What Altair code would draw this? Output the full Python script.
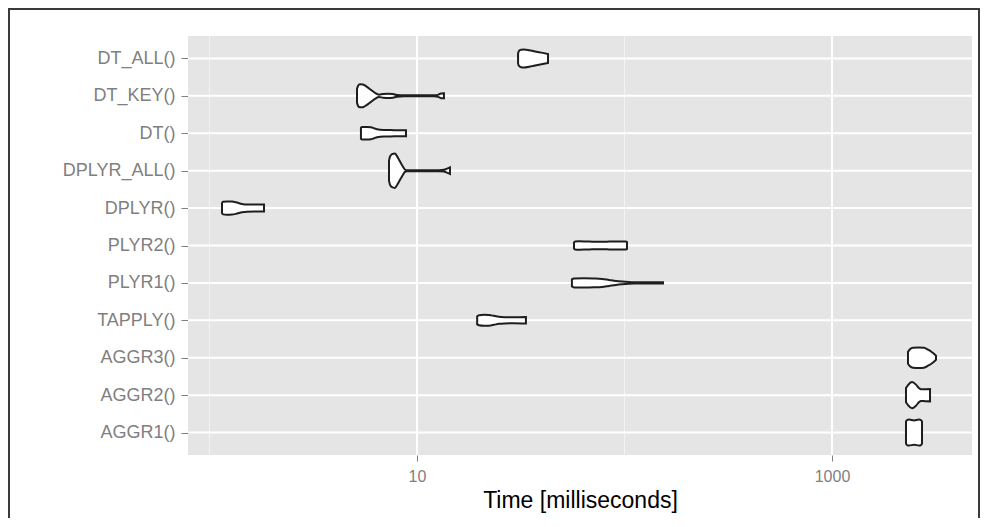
import altair as alt
import pandas as pd

# Categories, bottom to top (ggplot factor order)
labels = ["AGGR1()", "AGGR2()", "AGGR3()", "TAPPLY()", "PLYR1()", "PLYR2()",
          "DPLYR()", "DPLYR_ALL()", "DT()", "DT_KEY()", "DT_ALL()"]

# Violin profiles: time (ms) and half-width (in category units)
aggr1_ms = [2273, 2298, 2350, 2485, 2626, 2685, 2715]
aggr1_w = [0.294, 0.334, 0.348, 0.325, 0.348, 0.334, 0.294]

aggr2_ms = [2273, 2324, 2429, 2540, 2626, 2685, 2807, 2967]
aggr2_w = [0.187, 0.267, 0.348, 0.281, 0.187, 0.155, 0.160, 0.166]

aggr3_ms = [2324, 2376, 2457, 2626, 2776, 2902, 3033, 3136, 3171]
aggr3_w = [0.160, 0.227, 0.267, 0.275, 0.267, 0.214, 0.147, 0.080, 0.053]

tapply_ms = [19.5, 19.9, 21.0, 22.2, 23.5, 24.8, 26.3, 29.3, 33.5]
tapply_w = [0.107, 0.134, 0.147, 0.142, 0.120, 0.094, 0.083, 0.080, 0.086]

plyr1_ms = [55.8, 57.1, 63.8, 71.3, 77.9, 84.2, 91.0, 97.3, 111.1, 131.3, 153.3]
plyr1_w = [0.094, 0.120, 0.123, 0.118, 0.107, 0.080, 0.053, 0.037, 0.018, 0.016, 0.016]

plyr2_ms = [57.1, 57.7, 60.4, 67.4, 75.4, 84.2, 94.1, 101.7, 102.8]
plyr2_w = [0.080, 0.107, 0.112, 0.104, 0.102, 0.104, 0.107, 0.107, 0.094]

dplyr_ms = [1.149, 1.162, 1.214, 1.283, 1.357, 1.434, 1.516, 1.639, 1.733, 1.831]
dplyr_w = [0.134, 0.168, 0.179, 0.174, 0.147, 0.112, 0.096, 0.094, 0.094, 0.094]

dplyr_all_ms = [7.33, 7.41, 7.58, 7.83, 8.01, 8.19, 8.37, 8.56, 8.75, 8.95,
                10.22, 12.76, 13.49, 13.95, 14.42]
dplyr_all_w = [0.267, 0.374, 0.441, 0.460, 0.388, 0.294, 0.201, 0.107, 0.032, 0.013,
               0.013, 0.013, 0.024, 0.053, 0.088]

dt_ms = [5.37, 5.43, 5.74, 6.00, 6.21, 6.42, 6.93, 7.75, 8.37, 8.85]
dt_w = [0.147, 0.168, 0.168, 0.160, 0.134, 0.107, 0.088, 0.083, 0.080, 0.083]

dt_key_ms = [5.14, 5.20, 5.31, 5.49, 5.74, 6.00, 6.28, 6.56, 6.86, 7.25, 7.66, 8.01,
             8.66, 10.22, 12.08, 12.63, 13.05, 13.49]
dt_key_w = [0.187, 0.267, 0.307, 0.302, 0.241, 0.160, 0.080, 0.032, 0.048, 0.059, 0.048,
            0.021, 0.013, 0.013, 0.013, 0.027, 0.061, 0.067]

dt_all_ms = [30.7, 31.0, 31.7, 32.8, 34.7, 36.6, 38.7, 40.9, 42.8]
dt_all_w = [0.134, 0.201, 0.235, 0.241, 0.222, 0.195, 0.168, 0.142, 0.120]

profiles = [
    (aggr1_ms, aggr1_w), (aggr2_ms, aggr2_w), (aggr3_ms, aggr3_w),
    (tapply_ms, tapply_w), (plyr1_ms, plyr1_w), (plyr2_ms, plyr2_w),
    (dplyr_ms, dplyr_w), (dplyr_all_ms, dplyr_all_w), (dt_ms, dt_w),
    (dt_key_ms, dt_key_w), (dt_all_ms, dt_all_w),
]

x_major = [10, 1000]
x_minor = [1, 100]
positions = list(range(1, len(labels) + 1))

rows = []
for i, (lab, (ms, ws)) in enumerate(zip(labels, profiles)):
    for t, h in zip(ms, ws):
        rows.append({"func": lab, "pos": i + 1, "t": t, "w": h})
df = pd.DataFrame(rows)

W, H = 784, 419
xscale = alt.Scale(type="log", domain=[0.788, 4728], nice=False)
yscale = alt.Scale(domain=[0.4, 11.6], nice=False, zero=False)

label_expr = "[" + ",".join("'" + l + "'" for l in labels) + "][datum.value - 1]"

xaxis = alt.Axis(values=x_major, labelExpr="format(datum.value, 'd')",
                 title="Time [milliseconds]", grid=False, domain=False,
                 tickSize=6, tickColor="#7f7f7f", tickWidth=1,
                 labelColor="#7f7f7f", labelFontSize=16, labelPadding=7,
                 labelFlush=False, labelOverlap=False,
                 titleFontSize=23, titleColor="black", titleFontWeight="normal",
                 titlePadding=5)
yaxis = alt.Axis(values=positions, labelExpr=label_expr, title=None,
                 grid=False, domain=False, tickSize=7, tickColor="#7f7f7f",
                 tickWidth=1, labelColor="#7f7f7f", labelFontSize=18,
                 labelPadding=6, labelOverlap=False)

minor = alt.Chart(pd.DataFrame({"g": x_minor})).mark_rule(
    color="#f2f2f2", strokeWidth=1
).encode(x=alt.X("g:Q", scale=xscale, axis=xaxis))

major = alt.Chart(pd.DataFrame({"g": x_major})).mark_rule(
    color="white", strokeWidth=2
).encode(x=alt.X("g:Q", scale=xscale, axis=xaxis))

yrules = alt.Chart(pd.DataFrame({"p": positions})).mark_rule(
    color="white", strokeWidth=2
).encode(y=alt.Y("p:Q", scale=yscale, axis=yaxis))

violins = alt.Chart(df).transform_calculate(
    hi="datum.pos + datum.w", lo="datum.pos - datum.w"
).mark_area(
    fill="white", stroke="#1e1e1e", strokeWidth=2, interpolate="monotone",
    fillOpacity=1
).encode(
    x=alt.X("t:Q", scale=xscale, axis=xaxis),
    y=alt.Y("hi:Q", scale=yscale, axis=yaxis, stack=None),
    y2="lo:Q",
    detail="func:N",
)

frame = alt.Chart(pd.DataFrame({"a": [0]})).mark_rect(
    filled=False, stroke="#3a3a3a", strokeWidth=2
).encode(
    x=alt.value(-179), x2=alt.value(791),
    y=alt.value(-27), y2=alt.value(520),
)

chart = alt.layer(minor, major, yrules, violins, frame).properties(
    width=W, height=H,
    padding={"left": 180, "top": 28, "right": 9, "bottom": 63},
    autosize=alt.AutoSizeParams(type="none"),
).configure(font="Liberation Sans").configure_view(fill="#e5e5e5", stroke=None)

chart.save("out.html", embed_options={"renderer": "svg", "actions": False})
